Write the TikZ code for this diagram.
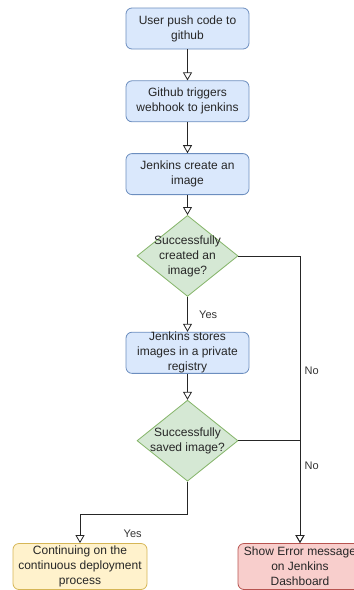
\documentclass[tikz,border=0pt]{standalone}
\usepackage{fontspec}
\setmainfont{Liberation Sans}
\usetikzlibrary{positioning, arrows.meta, shapes.geometric}

\begin{document}
\begin{tikzpicture}[
    x=1pt, y=1pt,
    >={Triangle[open, length=8pt, width=9pt]},
    node distance=31pt, % gap between the blue steps
    % Styles for nodes
    stepbox/.style={draw=#1!70!black, fill=#1!20, rectangle, minimum height=41pt, minimum width=123pt, align=center, rounded corners=6pt, line width=0.8pt, inner sep=0pt, text=black!85, font=\fontsize{12}{15}\selectfont},
    stepbox/.default=blue,
    decision/.style={draw=green!45!black!60, fill=green!50!black!20, diamond, minimum width=101pt, minimum height=81pt, inner sep=0pt, line width=0.8pt},
    dtext/.style={align=center, text=black!85, font=\fontsize{12}{15}\selectfont},
    flow/.style={->, line width=0.8pt, draw=black!85},
    lbl/.style={text=black!80, font=\fontsize{11}{13}\selectfont}
]
    \useasboundingbox (0,0) rectangle (354,-590);

    \definecolor{pushblue}{HTML}{DAE8FC}
    \definecolor{pushline}{HTML}{6C8EBF}
    \tikzset{stepbox/.append style={draw=pushline, fill=pushblue}}

    % Steps down the middle
    \node (push) [stepbox] at (187.5,-28.5) {User push code to\\github};

    \node (hook) [stepbox, below=of push] {Github triggers\\webhook to jenkins};

    \node (build) [stepbox, below=of hook] {Jenkins create an\\image};

    \node (built) [decision, below=20pt of build, fill={rgb,255:red,213;green,232;blue,212}, draw={rgb,255:red,130;green,179;blue,102},
        label={[dtext]center:Successfully\\created an\\image?}] {};

    \node (store) [stepbox, below=35pt of built] {Jenkins stores\\images in a private\\registry};

    \node (saved) [decision, below=26pt of store, fill={rgb,255:red,213;green,232;blue,212}, draw={rgb,255:red,130;green,179;blue,102},
        label={[dtext]center:Successfully\\saved image?}] {};

    % Results at the bottom
    \node (deploy) [stepbox, minimum width=134pt, minimum height=46pt, fill={rgb,255:red,255;green,242;blue,204}, draw={rgb,255:red,214;green,182;blue,86}] at (80,-566.5) {Continuing on the\\continuous deployment\\process};

    \node (error) [stepbox, minimum width=124pt, minimum height=46pt, fill={rgb,255:red,248;green,206;blue,204}, draw={rgb,255:red,184;green,84;blue,80}] at (300,-566.5) {Show Error message\\on Jenkins\\Dashboard};

    % Arrows
    \draw [flow] (push) -- (hook);
    \draw [flow] (hook) -- (build);
    \draw [flow] (build) -- (built);
    \draw [flow] (built) -- node [lbl, right=8pt] {Yes} (store);
    \draw [flow] (store) -- (saved);
    \draw [flow] (built.east) -| node [lbl, pos=0.7, right=1pt] {No} (error.north);
    \draw [flow] (saved.east) -| node [lbl, pos=0.62, right=1pt] {No} (error.north);
    \draw [flow] (saved.south) -- ++(0,-33) -| node [lbl, pos=0.83, right=40pt] {Yes} (deploy.north);

\end{tikzpicture}
\end{document}
